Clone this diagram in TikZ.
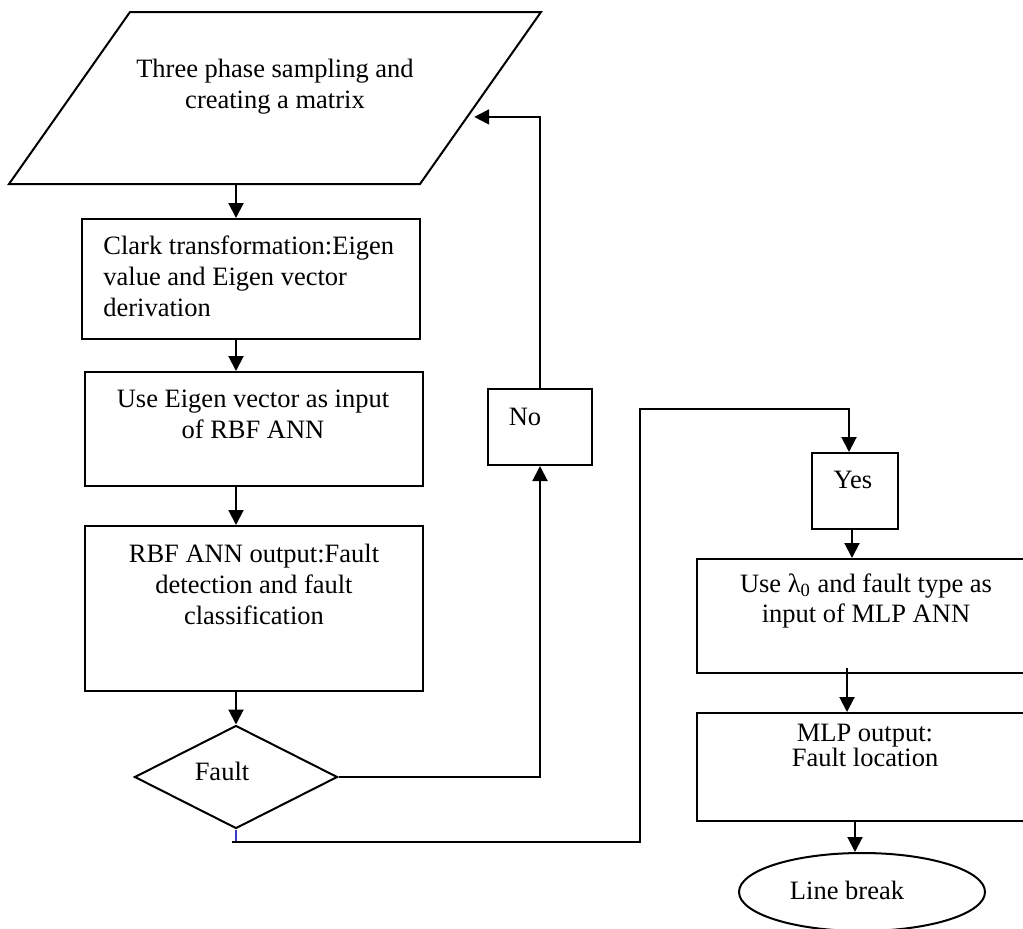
\documentclass[tikz,border=0pt]{standalone}
\usepackage{fontspec}
\setmainfont{Liberation Serif}
\usetikzlibrary{shapes.geometric,arrows.meta,calc}
\tikzset{
  box/.style={draw, line width=1pt, inner sep=0pt},
  txt/.style={inner sep=0pt, align=center, font=\fontsize{13.25pt}{15.5pt}\selectfont},
  flow/.style={line width=1pt, -{Triangle[length=7.5pt,width=7.5pt]}},
  wire/.style={line width=1pt}
}

\begin{document}
\begin{tikzpicture}[x=0.5pt, y=-0.5pt]
        \useasboundingbox (0,0) rectangle (1023,928);
        % left column
        \coordinate (sbl) at (9,184);
        \coordinate (sbr) at (420,184);
        \coordinate (str) at (541,12);
        \coordinate (stl) at (130,12);
        \draw[box] (sbl) -- (sbr) -- (str) -- (stl) -- cycle;
        \node[box, minimum width=169pt, minimum height=60pt] (clark) at (251,279) {};
        \node[box, minimum width=169pt, minimum height=57pt] (rbfin) at (254,429) {};
        \node[box, minimum width=169pt, minimum height=82.5pt] (rbfout) at (254,608.5) {};
        \node[box, diamond, minimum width=101.5pt, minimum height=51.5pt] (fault) at (236,777) {};
        % answers
        \node[box, minimum width=52pt, minimum height=38pt] (no) at (540,427) {};
        \node[box, minimum width=43pt, minimum height=38pt] (yes) at (855,491) {};
        % right column
        \node[box, minimum width=169pt, minimum height=57pt] (mlpin) at (866,616) {};
        \node[box, minimum width=169pt, minimum height=54pt] (mlpout) at (866,767) {};
        \node[box, ellipse, minimum width=123pt, minimum height=39pt] (stop) at (862,892) {};
        % texts
        \node[txt] (tsample) at (275,87) {Three phase sampling and\\creating a matrix};
        \node[txt, align=left, anchor=west] (tclark) at (103,276) {Clark transformation:Eigen\\value and Eigen vector\\derivation};
        \node[txt] (trbfin) at (253,414) {Use Eigen vector as input\\of RBF ANN};
        \node[txt] (trbfout) at (254,584) {RBF ANN output:Fault\\detection and fault\\classification};
        \node[txt] (tfault) at (222,771) {Fault};
        \node[txt] (tno) at (525,417) {No};
        \node[txt] (tyes) at (853,480) {Yes};
        \node[txt, font=\fontsize{13.25pt}{15pt}\selectfont] (tmlpin) at (866,601) {Use λ\textsubscript{0} and fault type as\\input of MLP ANN};
        \node[txt, font=\fontsize{13.25pt}{12.5pt}\selectfont] (tmlpout) at (865,745.5) {MLP output:\\Fault location};
        \node[txt] (tstop) at (847,890) {Line break};
        % connectors
        \draw[flow] (fault.north |- sbl) -- (fault.north |- clark.north);
        \draw[flow] (fault.north |- clark.south) -- (fault.north |- rbfin.north);
        \draw[flow] (fault.north |- rbfin.south) -- (fault.north |- rbfout.north);
        \draw[flow] (rbfout.south -| fault.north) -- (fault.north);
        \draw[flow] (fault.east) -| (no.south);
        \draw[flow] (no.north) |- ($(str)!.61!(sbr)+(7,0)$);
        \draw[wire, blue!55!gray, line width=0.6pt] (fault.south) -- ++(0,-6pt);
        \draw[flow] ($(fault.south)+(-4,12)$) -| (640,409) -| ([xshift=-3pt]yes.north);
        \draw[flow] ([xshift=-1.5pt]yes.south) -- ([xshift=-1.5pt]yes.south |- mlpin.north);
        \draw[flow] ($(mlpin.south)+(-19,-6)$) -- ([xshift=-9.5pt]mlpout.north);
        \draw[flow] ([xshift=-5.5pt]mlpout.south) -- ([xshift=-5.5pt]mlpout.south |- stop.north);
      \end{tikzpicture}
\end{document}
